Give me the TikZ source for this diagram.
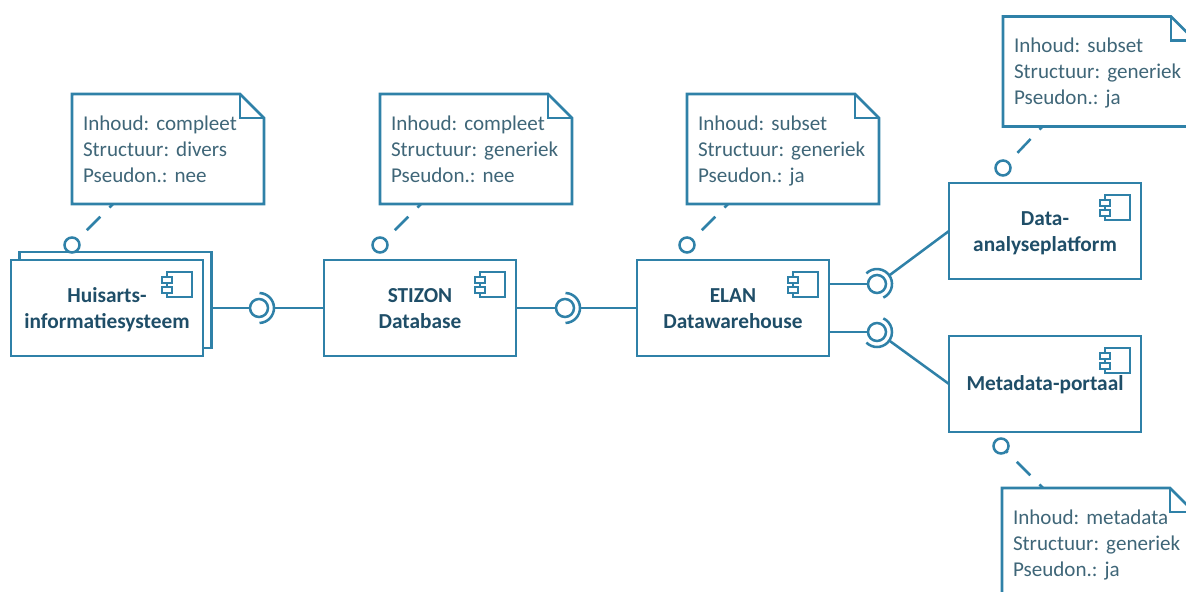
\documentclass[tikz,border=0pt]{standalone}
\usepackage{fontspec}
\setmainfont{Carlito}
\frenchspacing
\usetikzlibrary{arrows.meta,
                positioning}
\definecolor{LB}{HTML}{2F81A8}% Line Blue
\definecolor{TN}{HTML}{3F6678}% Text Note
\definecolor{TC}{HTML}{1F4E68}% Text Component
\begin{document}
\begin{tikzpicture}[
x = 0.75pt, y = 0.75pt,
node distance = 90.75pt,
   LN/.style = {draw=LB, line width=1.9pt, line join=miter},
 COMP/.style = {LN, fill=white, minimum width=144pt, minimum height=72pt, text width=135pt,
                inner sep=0pt, outer sep=0pt, align=center, text=TC,
                execute at begin node=\rule{0pt}{#1}, execute at end node=\strut,
                font=\fontsize{16pt}{19.5pt}\selectfont\bfseries},
 COMP/.default = 16.5pt,
 NOTE/.style = {minimum width=144pt, minimum height=82.5pt, text width=127.5pt,
                inner xsep=8.25pt, inner ysep=0pt, outer sep=0pt, align=left, text=TN,
                execute at begin node=\rule{0pt}{17pt}, execute at end node=\strut,
                font=\fontsize{15.8pt}{19.5pt}\selectfont},
 BALL/.style = {LN, circle, minimum size=13.5pt, inner sep=0pt, outer sep=0pt},
  DOT/.style = {LN, circle, minimum size=11.25pt, inner sep=0pt, outer sep=0pt},
  LNK/.style = {LN, dash pattern=on 14.25pt off 9.75pt, dash phase=10.5pt}
                    ]
\clip (0,0) rectangle (1186,592);
% components
\node (hpback) [COMP] at (115.5,292) {};
\node (hp) [COMP] at (107,284) {Huisarts-\\informatiesysteem};
\node (stizon) [COMP, right=of hp] {STIZON\\Database};
\node (elan) [COMP, right=of stizon] {ELAN\\Datawarehouse};
\node (data) [COMP] at (1045,361) {Data-\\analyseplatform};
\node (meta) [COMP=15.2pt] at (1045,208) {Metadata-portaal};
% notes
\node (n1) [NOTE] at (168,443) {Inhoud: compleet\\Structuur: divers\\Pseudon.: nee};
\node (n2) [NOTE] at (476,443) {Inhoud: compleet\\Structuur: generiek\\Pseudon.: nee};
\node (n3) [NOTE] at (783,443) {Inhoud: subset\\Structuur: generiek\\Pseudon.: ja};
\node (n4) [NOTE] at (1099,520.5) {Inhoud: subset\\Structuur: generiek\\Pseudon.: ja};
\node (n5) [NOTE] at (1098,49) {Inhoud: metadata\\Structuur: generiek\\Pseudon.: ja};
\foreach \n in {n1,n2,n3,n4,n5}
{
\draw[LN] (\n.south west) -- (\n.north west) -- ([xshift=-18pt] \n.north east)
          -- ([yshift=-18pt] \n.north east) -- (\n.south east) -- cycle;
\draw[LN] ([xshift=-18pt] \n.north east) |- ([yshift=-18pt] \n.north east);
}
% component icons
\foreach \c in {hp,stizon,elan,data,meta}
{
\draw[LN, line width=1.7pt] ([shift={(-27pt,-9pt)}] \c.north east)
                            rectangle ([shift={(-8.25pt,-27.75pt)}] \c.north east);
\draw[LN, line width=1.7pt, fill=white] ([shift={(-30.75pt,-12.75pt)}] \c.north east)
                            rectangle ([shift={(-23.25pt,-17.25pt)}] \c.north east);
\draw[LN, line width=1.7pt, fill=white] ([shift={(-30.75pt,-20.25pt)}] \c.north east)
                            rectangle ([shift={(-23.25pt,-24.75pt)}] \c.north east);
}
% ball and socket
\node (b1) [BALL] at (259,284) {};
\node (b2) [BALL] at (565,284) {};
\node (b3) [BALL] at (877,308) {};
\node (b4) [BALL] at (877,260) {};
\foreach \b/\s/\e in {b1/-88/88, b2/-88/88, b3/-65/135, b4/-135/65}
  \draw[LN] (\b.center) ++(\s:11.25pt) arc[start angle=\s, end angle=\e, radius=11.25pt];
\draw[LN] (hpback.east |- b1) -- (b1);
\draw[LN] ([xshift=11.25pt] b1.center) -- (stizon.west);
\draw[LN] (stizon.east) -- (b2);
\draw[LN] ([xshift=11.25pt] b2.center) -- (elan.west);
\draw[LN] (elan.east |- b3) -- (b3);
\draw[LN] (elan.east |- b4) -- (b4);
\draw[LN] ([shift={(35:11.25pt)}] b3.center) -- (data.west);
\draw[LN] ([shift={(-35:11.25pt)}] b4.center) -- (meta.west);
% note links
\coordinate (t1) at (113,388);
\coordinate (t2) at (421,388);
\coordinate (t3) at (728,388);
\coordinate (t4) at (1043,466);
\coordinate (t5) at (1043,104);
\node (c1) [DOT] at (72,347) {};
\node (c2) [DOT] at (380,347) {};
\node (c3) [DOT] at (687,347) {};
\node (c4) [DOT] at (1003,424) {};
\node (c5) [DOT] at (1001,146) {};
\foreach \i in {1,...,5}
  \draw[LNK] (t\i) -- (c\i);
\end{tikzpicture}
\end{document}
